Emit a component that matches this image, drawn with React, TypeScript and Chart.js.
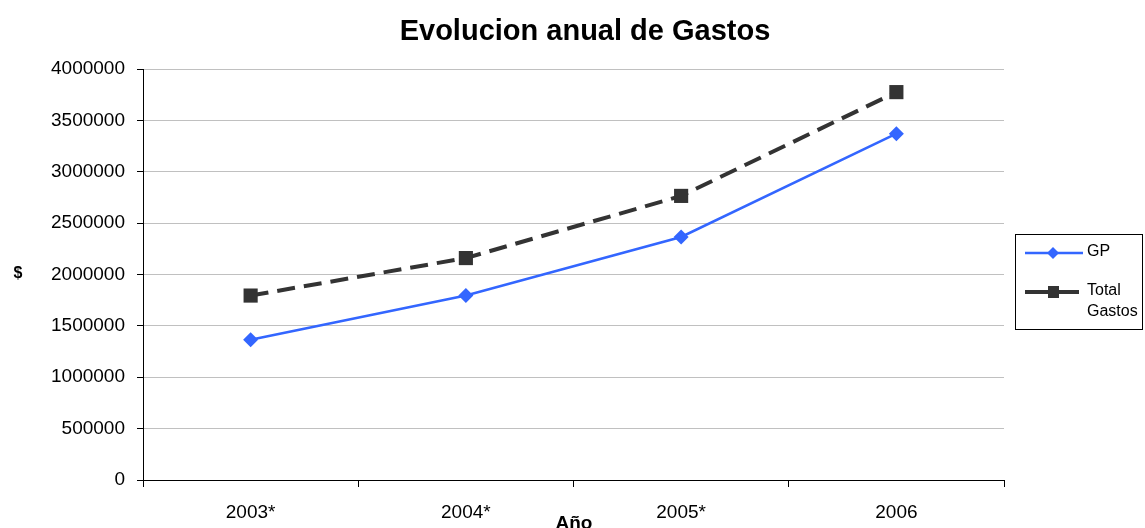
import React, { useEffect, useRef } from "react";
import { Chart, registerables } from "chart.js";

Chart.register(...registerables);

const categories = ["2003*", "2004*", "2005*", "2006"];
const gpValues = [1365000, 1795000, 2365000, 3370000];
const totalValues = [1795000, 2160000, 2765000, 3775000];
const yTicks = [0, 500000, 1000000, 1500000, 2000000, 2500000, 3000000, 3500000, 4000000];

const titleText = "Evolucion anual de Gastos";
const yTitle = "$";
const xTitle = "Año";
const legendGP = "GP";
const legendTotal = ["Total", "Gastos"];

const GP_COLOR = "#3366ff";
const TOTAL_COLOR = "#333333";
const FONT = "Arial, 'Liberation Sans', sans-serif";

const decorPlugin = {
  id: "decor",
  afterDraw(chart: any) {
    const ctx = chart.ctx;
    ctx.save();
    // title
    ctx.fillStyle = "#000";
    ctx.font = `bold 29px ${FONT}`;
    ctx.textAlign = "center";
    ctx.textBaseline = "alphabetic";
    ctx.fillText(titleText, 585, 40);
    // y title
    ctx.font = `bold 16px ${FONT}`;
    ctx.textBaseline = "middle";
    ctx.fillText(yTitle, 18, 274);
    // x title
    ctx.font = `bold 19px ${FONT}`;
    ctx.textBaseline = "alphabetic";
    ctx.fillText(xTitle, 574, 529);

    // legend
    ctx.fillStyle = "#fff";
    ctx.fillRect(1015.5, 234.5, 127, 95);
    ctx.strokeStyle = "#000";
    ctx.lineWidth = 1;
    ctx.strokeRect(1015.5, 234.5, 127, 95);

    // GP entry
    ctx.strokeStyle = GP_COLOR;
    ctx.lineWidth = 2.5;
    ctx.beginPath();
    ctx.moveTo(1025, 253);
    ctx.lineTo(1083, 253);
    ctx.stroke();
    ctx.fillStyle = GP_COLOR;
    ctx.beginPath();
    ctx.moveTo(1053, 247);
    ctx.lineTo(1059, 253);
    ctx.lineTo(1053, 259);
    ctx.lineTo(1047, 253);
    ctx.closePath();
    ctx.fill();

    // Total entry
    ctx.strokeStyle = TOTAL_COLOR;
    ctx.lineWidth = 4;
    ctx.beginPath();
    ctx.moveTo(1025, 292);
    ctx.lineTo(1079, 292);
    ctx.stroke();
    ctx.fillStyle = TOTAL_COLOR;
    ctx.fillRect(1048, 286, 11, 12);

    ctx.fillStyle = "#000";
    ctx.font = `16px ${FONT}`;
    ctx.textAlign = "left";
    ctx.textBaseline = "middle";
    ctx.fillText(legendGP, 1087, 252);
    ctx.fillText(legendTotal[0], 1087, 291);
    ctx.fillText(legendTotal[1], 1087, 312);
    ctx.restore();
  },
};

export default function App() {
  const canvasRef = useRef<HTMLCanvasElement | null>(null);

  useEffect(() => {
    const canvas = canvasRef.current;
    if (!canvas) return;
    const chart = new Chart(canvas, {
      type: "line",
      data: {
        labels: categories,
        datasets: [
          {
            label: legendGP,
            data: gpValues,
            borderColor: GP_COLOR,
            backgroundColor: GP_COLOR,
            borderWidth: 2.5,
            pointStyle: "rectRot",
            pointRadius: 7.5,
            pointBorderWidth: 0,
            tension: 0,
          },
          {
            label: legendTotal.join(" "),
            data: totalValues,
            borderColor: TOTAL_COLOR,
            backgroundColor: TOTAL_COLOR,
            borderWidth: 4,
            borderDash: [18, 9],
            pointStyle: "rect",
            pointRadius: 10,
            pointBorderWidth: 0,
            tension: 0,
          },
        ],
      },
      options: {
        animation: false,
        responsive: false,
        devicePixelRatio: 1,
        layout: { padding: { left: 0, top: 69, right: 141, bottom: 0 } },
        plugins: {
          legend: { display: false },
          title: { display: false },
          tooltip: { enabled: false },
        },
        scales: {
          x: {
            type: "category",
            offset: true,
            grid: {
              offset: true,
              drawOnChartArea: false,
              drawTicks: true,
              tickLength: 7,
              tickColor: "#000",
              color: "#000",
            },
            border: { color: "#000", width: 1 },
            ticks: {
              color: "#000",
              font: { family: FONT, size: 19 },
              padding: 14,
              maxRotation: 0,
            },
            afterFit(scale: any) {
              scale.height = 48;
            },
          },
          y: {
            min: 0,
            max: 4000000,
            afterBuildTicks(scale: any) {
              scale.ticks = yTicks.map((v) => ({ value: v }));
            },
            grid: {
              color: "#c0c0c0",
              lineWidth: 1,
              tickLength: 6,
              tickColor: "#000",
            },
            border: { color: "#000", width: 1 },
            ticks: {
              color: "#000",
              font: { family: FONT, size: 19 },
              padding: 12,
              callback: (v: any) => String(v),
            },
            afterFit(scale: any) {
              scale.width = 143;
            },
          },
        },
      },
      plugins: [decorPlugin],
    });
    return () => chart.destroy();
  }, []);

  return (
    <div style={{ position: "fixed", left: 0, top: 0, width: 1145, height: 528, background: "#fff" }}>
      <canvas ref={canvasRef} width={1145} height={528} style={{ width: 1145, height: 528 }} />
    </div>
  );
}
